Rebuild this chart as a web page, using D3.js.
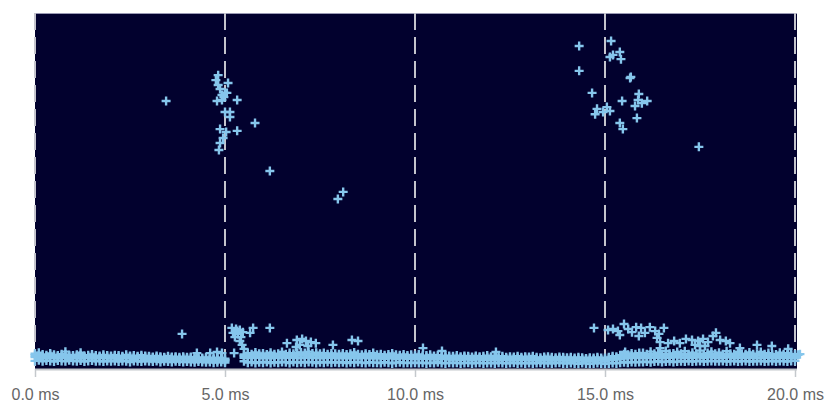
<!DOCTYPE html>
<html>
<head>
<meta charset="utf-8">
<script src="https://cdn.jsdelivr.net/npm/d3@7"></script>
<style>
  body { margin: 0; background: #fff; }
  text { font-family: "Liberation Sans", Arial, sans-serif; }
</style>
</head>
<body>
<svg id="chart" width="828" height="407"></svg>
<script>
// Axis ticks (time in ms)
const tickValues = [0, 5, 10, 15, 20];
const tickLabels = ["0.0 ms", "5.0 ms", "10.0 ms", "15.0 ms", "20.0 ms"];

// Dense baseline band: one sample every 0.1 ms (0.0 .. 20.0), four rows per sample
const bandStep = 0.1;
const bandHigh = [
  4.0,4.3,3.8,3.6,4.1,3.7,3.5,3.9,4.6,3.6,
  3.5,3.7,4.3,3.4,3.6,3.8,3.5,3.4,3.7,3.5,
  3.4,3.6,3.5,3.3,3.7,3.4,3.5,3.3,3.6,3.4,
  3.3,3.1,3.4,3.2,3.0,3.3,3.1,3.2,3.0,3.2,
  3.0,3.1,2.9,3.0,2.8,3.0,2.9,2.7,2.9,2.8,
  2.6,null,null,null,null,3.8,4.2,3.9,4.4,4.0,
  4.1,3.8,4.3,3.9,4.0,4.5,3.9,4.2,4.0,4.3,
  4.4,4.2,4.6,4.1,4.3,4.0,4.2,3.9,4.1,4.0,
  3.9,4.1,3.8,4.0,4.4,3.9,3.7,4.0,3.8,4.2,
  3.7,3.9,3.6,3.8,4.1,3.7,3.6,3.8,3.5,3.7,
  3.6,3.8,3.4,3.5,3.7,3.4,3.6,3.3,3.5,3.4,
  3.3,3.5,3.2,3.4,3.3,3.1,3.4,3.2,3.3,3.5,
  3.2,3.4,3.1,3.3,3.0,3.2,3.1,3.3,3.0,3.2,
  3.1,3.3,3.0,2.9,3.1,3.2,3.0,2.9,3.1,3.0,
  2.9,3.0,2.8,3.0,2.9,2.7,2.9,2.8,3.0,2.8,
  2.8,3.0,3.3,3.2,3.6,3.9,3.7,4.1,3.9,4.2,
  4.2,3.9,4.6,4.0,4.3,3.9,4.8,4.0,4.1,4.5,
  4.0,4.7,3.9,4.3,4.0,4.9,3.9,4.2,4.6,4.0,
  4.3,3.9,4.7,4.0,3.9,4.5,4.0,3.9,4.4,3.9,
  4.0,4.5,3.9,4.2,3.9,3.8,4.3,3.9,4.2,3.9,3.8
];
const bandUpper = [
  3.6,3.5,3.4,3.2,3.7,3.3,3.2,3.4,3.8,3.3,
  3.2,3.4,3.6,3.1,3.2,3.4,3.1,3.1,3.3,3.1,
  3.0,3.2,3.1,3.0,3.2,3.1,3.0,3.0,3.2,3.0,
  2.9,2.8,3.0,2.9,2.8,2.9,2.8,2.9,2.7,2.9,
  2.7,2.8,2.6,2.7,2.6,2.6,2.6,2.5,2.6,2.5,
  2.3,null,null,null,null,3.4,3.6,3.3,3.8,3.5,
  3.5,3.4,3.6,3.4,3.5,3.7,3.4,3.6,3.5,3.6,
  3.7,3.6,3.8,3.5,3.7,3.5,3.5,3.4,3.5,3.4,
  3.4,3.5,3.3,3.4,3.7,3.3,3.2,3.5,3.3,3.5,
  3.2,3.4,3.1,3.3,3.5,3.2,3.1,3.3,3.1,3.2,
  3.1,3.2,3.0,3.1,3.1,3.0,3.0,2.9,3.0,2.9,
  2.9,3.0,2.8,3.0,2.9,2.7,3.0,2.8,2.8,3.0,
  2.8,2.9,2.7,2.8,2.7,2.7,2.7,2.8,2.7,2.8,
  2.7,2.8,2.6,2.5,2.7,2.7,2.6,2.5,2.7,2.6,
  2.5,2.6,2.4,2.6,2.5,2.4,2.5,2.4,2.6,2.4,
  2.4,2.6,2.8,2.8,3.1,3.3,3.2,3.5,3.3,3.6,
  3.5,3.4,3.8,3.5,3.7,3.4,3.9,3.5,3.6,3.8,
  3.5,3.8,3.5,3.6,3.5,4.0,3.4,3.6,3.9,3.5,
  3.6,3.4,3.9,3.5,3.4,3.8,3.5,3.5,3.7,3.4,
  3.5,3.7,3.4,3.6,3.4,3.4,3.6,3.4,3.6,3.4,3.3
];
const bandMid = [
  3.1,2.9,3.0,2.8,3.2,2.9,3.0,2.8,3.1,2.9,
  2.8,3.0,2.7,2.9,2.8,3.0,2.7,2.8,2.9,2.7,
  2.7,2.8,2.6,2.8,2.7,2.9,2.6,2.7,2.8,2.6,
  2.6,2.5,2.7,2.5,2.6,2.4,2.6,2.5,2.4,2.6,
  2.4,2.5,2.3,2.4,2.3,2.2,2.4,2.3,2.2,2.3,
  2.0,null,null,null,null,2.9,3.0,2.8,3.1,2.9,
  2.8,3.0,2.7,2.9,3.1,2.8,3.0,2.9,3.1,2.8,
  3.0,2.9,3.1,2.8,3.0,2.9,2.8,3.0,2.9,2.8,
  2.8,2.9,2.7,2.8,3.0,2.7,2.8,2.9,2.7,2.8,
  2.7,2.8,2.6,2.7,2.8,2.6,2.7,2.8,2.6,2.7,
  2.6,2.5,2.7,2.6,2.5,2.6,2.4,2.6,2.5,2.4,
  2.4,2.5,2.3,2.5,2.4,2.3,2.5,2.4,2.3,2.4,
  2.3,2.4,2.2,2.3,2.4,2.2,2.3,2.2,2.4,2.3,
  2.2,2.3,2.2,2.1,2.3,2.2,2.1,2.2,2.3,2.1,
  2.1,2.2,2.0,2.1,2.2,2.0,2.1,2.0,2.2,2.1,
  2.0,2.2,2.3,2.4,2.6,2.8,2.7,2.9,2.8,3.0,
  2.9,2.8,3.0,2.9,3.1,2.8,3.0,2.9,3.1,3.0,
  3.0,2.9,3.1,2.9,3.0,3.1,2.9,3.0,3.1,2.9,
  3.0,2.9,3.1,3.0,2.8,3.0,2.9,3.1,2.9,2.8,
  2.9,2.8,3.0,2.9,2.8,3.0,2.9,3.0,2.8,2.9,2.8
];
const bandLow = [
  2.0,2.2,1.9,2.1,2.0,1.8,2.1,2.0,1.9,2.2,
  2.0,1.9,2.1,1.8,2.0,2.1,1.9,2.0,1.8,2.0,
  1.9,2.0,1.8,2.0,1.9,1.7,2.0,1.9,1.8,2.0,
  1.9,1.8,2.0,1.7,1.9,1.8,1.7,1.9,1.8,1.7,
  1.8,1.7,1.6,1.8,1.7,1.6,1.7,1.5,1.6,1.7,
  1.5,null,null,null,null,1.9,1.5,1.7,1.4,1.6,
  1.5,1.7,1.4,1.6,1.5,1.7,1.6,1.4,1.7,1.5,
  1.6,1.5,1.7,1.6,1.4,1.6,1.5,1.7,1.5,1.6,
  1.5,1.6,1.4,1.6,1.5,1.7,1.5,1.4,1.6,1.5,
  1.5,1.4,1.6,1.5,1.3,1.5,1.6,1.4,1.5,1.4,
  1.5,1.4,1.5,1.3,1.5,1.4,1.6,1.4,1.3,1.5,
  1.4,1.5,1.3,1.4,1.5,1.3,1.4,1.5,1.3,1.4,
  1.4,1.3,1.5,1.4,1.3,1.4,1.5,1.3,1.4,1.3,
  1.4,1.3,1.4,1.5,1.3,1.4,1.3,1.4,1.5,1.3,
  1.3,1.4,1.3,1.2,1.4,1.3,1.2,1.3,1.4,1.3,
  1.2,1.3,1.4,1.3,1.5,1.6,1.5,1.7,1.6,1.7,
  1.7,1.8,1.6,1.8,1.9,1.7,1.8,1.9,1.7,1.8,
  1.9,1.8,2.0,1.8,1.9,2.0,1.8,1.9,2.0,1.9,
  1.9,2.0,1.8,1.9,2.0,1.8,1.9,2.0,1.8,1.9,
  1.9,2.0,1.8,1.9,2.0,1.8,2.0,1.9,1.8,2.0,2.0
];

// Individual samples away from the band: times (ms) and values
const spikeTimes = [
  // burst around 5 ms
  4.82,4.76,5.08,4.82,4.87,5.00,4.92,5.05,4.79,4.92,5.32,3.45,5.00,5.13,5.13,5.79,
  4.87,5.03,5.32,4.95,4.87,4.84,6.18,8.11,7.97,4.97,
  // burst around 15 ms
  14.32,15.16,15.39,15.21,15.13,15.42,14.32,15.66,15.68,14.66,15.89,15.45,15.87,16.11,
  15.97,15.79,14.79,15.05,15.13,14.95,14.74,15.84,15.39,15.47,17.47,
  // mid-level samples
  3.87,4.26,4.61,4.79,4.92,5.24,
  5.18,5.29,5.39,5.21,5.34,5.47,5.26,5.42,5.32,5.39,5.45,5.50,
  5.74,5.66,6.18,
  6.63,6.89,7.03,7.13,7.26,7.39,6.97,7.18,6.87,7.84,8.34,8.50,
  10.21,10.71,12.13,14.71,
  15.08,15.21,15.34,15.50,15.61,15.71,15.82,15.95,16.05,16.18,16.32,16.42,16.55,16.37,16.45,15.39,15.89,
  16.66,16.82,16.97,17.13,17.29,17.45,17.58,17.71,17.84,17.92,18.03,18.18,18.29,17.37,17.63,
  15.53,16.45,17.50,19.00,19.39,18.55,19.82,20.08,20.13
];
const spikeValues = [
  82.5,81.1,80.3,79.7,78.6,77.5,76.9,77.5,75.2,75.5,75.5,75.2,72.1,72.1,70.7,69.0,
  67.3,66.5,66.8,64.8,63.4,61.4,55.5,49.6,47.6,76.3,
  90.7,92.1,89.0,88.2,87.6,87.0,83.7,81.7,82.0,77.5,77.2,75.2,75.5,75.2,
  74.6,73.8,73.0,73.5,72.4,72.1,71.5,70.4,69.0,67.3,62.3,
  9.6,4.2,4.2,4.5,4.2,4.2,
  11.3,11.0,10.7,9.9,9.6,10.1,8.7,8.7,10.4,7.6,6.5,5.4,
  11.3,9.9,11.3,
  7.0,7.9,8.2,7.6,7.3,7.0,6.5,6.2,5.9,6.5,7.9,7.6,
  5.6,4.8,4.5,11.3,
  10.7,11.0,10.4,12.4,11.0,10.1,11.5,11.3,9.9,11.5,10.4,9.6,11.3,8.5,7.3,9.3,9.0,
  7.0,7.6,7.0,8.2,7.9,7.6,8.2,7.3,9.0,9.9,7.9,7.6,7.0,6.5,6.2,
  4.5,5.6,6.2,6.5,6.2,5.6,5.4,3.7,3.9
];

const plotLeft = 35, plotRight = 795, plotTop = 13, plotBottom = 369;

const x = d3.scaleLinear().domain([0, 20]).range([plotLeft, plotRight]);
const y = d3.scaleLinear().domain([0, 100]).range([plotBottom - 1, plotTop]);

const svg = d3.select("#chart");

// plot background
svg.append("rect")
  .attr("x", plotLeft).attr("y", plotTop)
  .attr("width", plotRight - plotLeft + 2).attr("height", plotBottom - plotTop)
  .attr("fill", "#02012e");

svg.append("line")
  .attr("x1", plotLeft).attr("x2", plotRight + 2)
  .attr("y1", plotTop + 0.5).attr("y2", plotTop + 0.5)
  .attr("stroke", "#9a9ab4").attr("stroke-width", 1);

// dashed vertical grid at each tick
svg.append("g").selectAll("line")
  .data(tickValues)
  .join("line")
  .attr("x1", d => x(d)).attr("x2", d => x(d))
  .attr("y1", plotTop).attr("y2", plotBottom)
  .attr("stroke", "#c4c4cc")
  .attr("stroke-width", 2)
  .attr("stroke-dasharray", "17,7");

// gather points
const points = [];
[bandLow, bandMid, bandUpper, bandHigh].forEach(row => {
  row.forEach((v, i) => {
    if (v !== null) points.push([i * bandStep, v]);
  });
});
spikeTimes.forEach((t, i) => points.push([t, spikeValues[i]]));

const cross = "M-4.5,0H4.5M0,-4.5V4.5";
svg.append("g")
  .selectAll("path")
  .data(points)
  .join("path")
  .attr("transform", d => `translate(${x(d[0])},${y(d[1])})`)
  .attr("d", cross)
  .attr("fill", "none")
  .attr("stroke", "#86c6ec")
  .attr("stroke-width", 2.4);

// x axis
const axis = d3.axisBottom(x)
  .tickValues(tickValues)
  .tickFormat((d, i) => tickLabels[i])
  .tickSize(8)
  .tickPadding(12);

const gx = svg.append("g")
  .attr("transform", `translate(0,${plotBottom})`)
  .call(axis);
gx.select(".domain")
  .attr("d", `M${plotLeft},0.5H${plotRight + 2}`)
  .attr("stroke", "#c4c8cc").attr("stroke-width", 2);
gx.selectAll(".tick line").attr("stroke", "#c4c8cc").attr("stroke-width", 1.5);
gx.selectAll(".tick text")
  .attr("fill", "#666")
  .style("font-size", "16px");
</script>
</body>
</html>
